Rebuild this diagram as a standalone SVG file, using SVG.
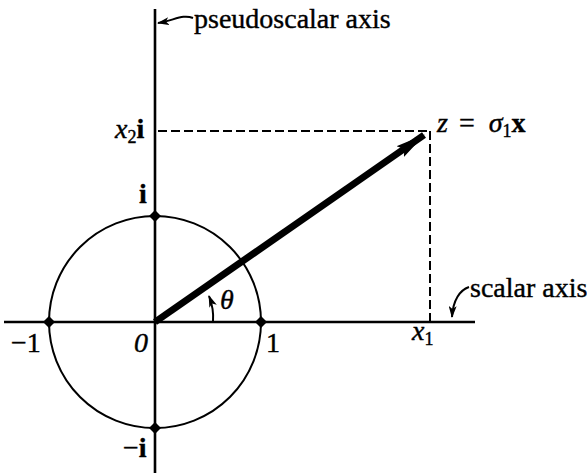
<svg xmlns="http://www.w3.org/2000/svg" width="587" height="475" viewBox="0 0 587 475">
<style>
text{font-family:"Liberation Serif","Times New Roman",serif;fill:#000;stroke:#000;stroke-width:0.4}
.lbl{font-size:28px}
.it{font-style:italic}
.b{font-weight:bold}
.ax{stroke:#000;stroke-width:2.6;fill:none}
.dash{stroke:#000;stroke-width:2;stroke-dasharray:9 4;fill:none}
.thin{stroke:#000;stroke-width:2;fill:none}
</style>
<defs>
<marker id="ah" markerWidth="12" markerHeight="8" refX="11" refY="4" orient="auto" markerUnits="userSpaceOnUse">
<path d="M0,0 L12,4 L0,8 L3,4 Z" fill="#000"/>
</marker>
<marker id="big" markerWidth="30" markerHeight="16" refX="29" refY="8" orient="auto" markerUnits="userSpaceOnUse">
<path d="M0,1.5 L30,8 L0,14.5 L5,8 Z" fill="#000"/>
</marker>
</defs>
<g id="connectors">
<line class="ax" x1="155" y1="9" x2="155" y2="473"/>
<line class="ax" x1="4" y1="322" x2="475" y2="322"/>
<circle class="thin" cx="155" cy="322" r="106"/>
<line class="dash" x1="158" y1="131" x2="430" y2="131"/>
<line class="dash" x1="430" y1="131" x2="430" y2="322"/>
<line x1="155" y1="322" x2="424" y2="135" stroke="#000" stroke-width="7" marker-end="url(#big)"/>
<path class="thin" d="M213,322 A58,58 0 0 0 209,296" marker-end="url(#ah)"/>
<path class="thin" d="M193,18 C183,14 175,20 158,23" marker-end="url(#ah)"/>
<path class="thin" d="M469,287 C460,290 453,300 452,317" marker-end="url(#ah)"/>
</g>
<g id="dots" fill="#000">
<path d="M155,210 L161,216 L155,222 L149,216 Z"/>
<path d="M155,422 L161,428 L155,434 L149,428 Z"/>
<path d="M49,316 L55,322 L49,328 L43,322 Z"/>
<path d="M261,316 L267,322 L261,328 L255,322 Z"/>
</g>
<g id="labels" class="lbl">
<text x="194" y="28">pseudoscalar axis</text>
<text x="115" y="138"><tspan class="it">x</tspan><tspan font-size="18" dy="5">2</tspan><tspan class="b" dy="-5">i</tspan></text>
<text x="139" y="203" class="b">i</text>
<text x="437" y="132"><tspan class="it">z</tspan><tspan dx="11">=</tspan><tspan class="it" dx="14">σ</tspan><tspan font-size="18" dy="5">1</tspan><tspan class="b" dy="-5">x</tspan></text>
<text x="470" y="297">scalar axis</text>
<text x="220" y="309" class="it">θ</text>
<text x="11" y="352">−1</text>
<text x="134" y="352" class="it">0</text>
<text x="266" y="352">1</text>
<text x="412" y="340"><tspan class="it">x</tspan><tspan font-size="18" dy="5">1</tspan></text>
<text x="123" y="457">−<tspan class="b">i</tspan></text>
</g>
</svg>
